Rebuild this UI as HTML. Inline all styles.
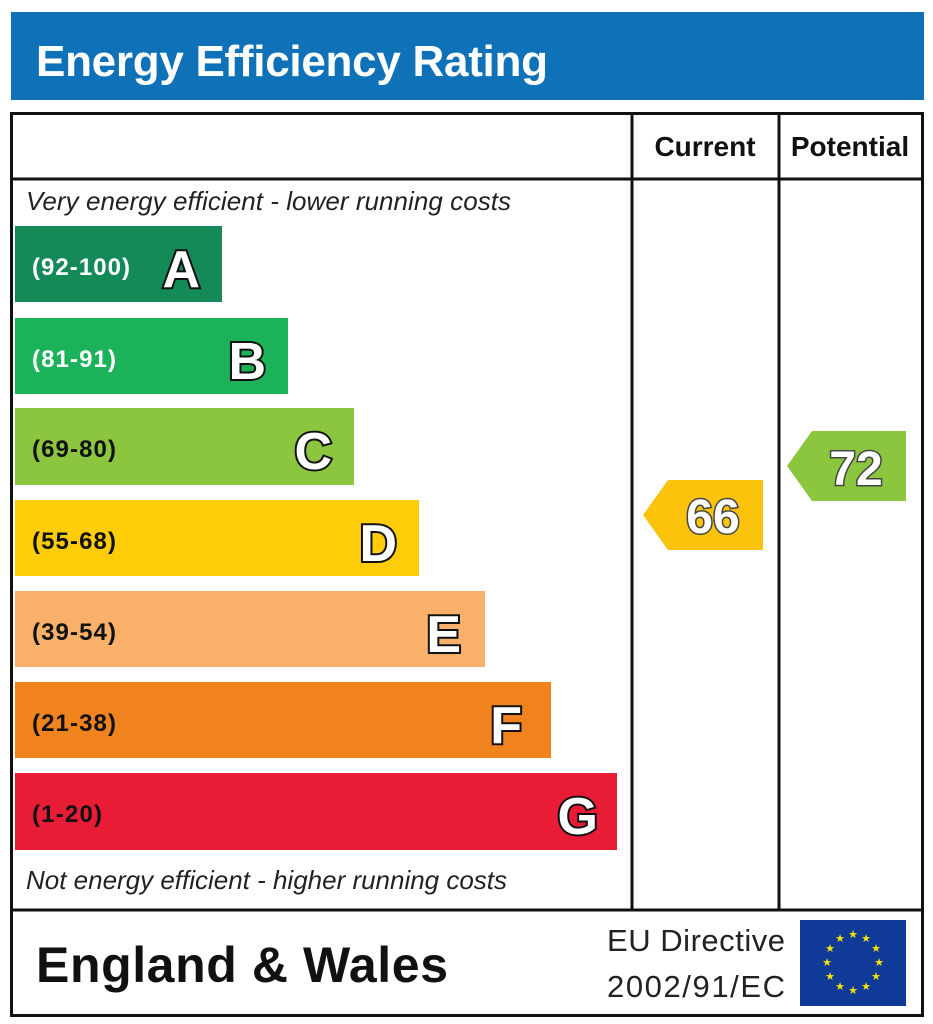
<!DOCTYPE html>
<html><head><meta charset="utf-8"><style>
html,body{margin:0;padding:0;background:#fff;width:933px;height:1024px;overflow:hidden}
svg text{font-family:"Liberation Sans",sans-serif}
.L{paint-order:stroke;stroke:#111;stroke-width:4;fill:#fff;font-size:52px;text-anchor:end}
.N{paint-order:stroke;stroke:#444;stroke-width:3;fill:#fff;font-size:48px;text-anchor:middle}
</style></head><body>
<svg width="933" height="1024" viewBox="0 0 933 1024">
<rect x="11" y="12" width="913" height="88" fill="#0f71b8"/>
<text x="36" y="76" font-size="44" font-weight="bold" fill="#fff" textLength="512">Energy Efficiency Rating</text>
<g fill="none" stroke="#111" stroke-width="3">
<rect x="11.5" y="113.5" width="911" height="902"/>
<line x1="11" y1="179" x2="923" y2="179"/>
<line x1="632" y1="113" x2="632" y2="910"/>
<line x1="779" y1="113" x2="779" y2="910"/>
<line x1="11" y1="910" x2="923" y2="910"/>
</g>
<text x="705" y="156" font-size="28" font-weight="bold" text-anchor="middle" fill="#111">Current</text>
<text x="850" y="156" font-size="28" font-weight="bold" text-anchor="middle" fill="#111">Potential</text>
<text x="26" y="210" font-size="26" font-style="italic" fill="#222" textLength="485">Very energy efficient - lower running costs</text>
<text x="26" y="889" font-size="26" font-style="italic" fill="#222" textLength="481">Not energy efficient - higher running costs</text>
<g font-weight="bold">
<rect x="15" y="226" width="207" height="76" fill="#138a58"/>
<text x="32" y="275" font-size="24" fill="#fff" textLength="98">(92-100)</text>
<text x="200" y="287" class="L">A</text>
<rect x="15" y="318" width="273" height="76" fill="#1bb25a"/>
<text x="32" y="367" font-size="24" fill="#fff" textLength="84">(81-91)</text>
<text x="266" y="379" class="L">B</text>
<rect x="15" y="408" width="339" height="77" fill="#8cc63e"/>
<text x="32" y="457" font-size="24" fill="#111" textLength="84">(69-80)</text>
<text x="332" y="469" class="L">C</text>
<rect x="15" y="500" width="404" height="76" fill="#fecc09"/>
<text x="32" y="549" font-size="24" fill="#111" textLength="84">(55-68)</text>
<text x="397" y="561" class="L">D</text>
<rect x="15" y="591" width="470" height="76" fill="#f8b06a"/>
<text x="32" y="640" font-size="24" fill="#111" textLength="84">(39-54)</text>
<text x="461" y="652" class="L">E</text>
<rect x="15" y="682" width="536" height="76" fill="#f1831f"/>
<text x="32" y="731" font-size="24" fill="#111" textLength="84">(21-38)</text>
<text x="522" y="743" class="L">F</text>
<rect x="15" y="773" width="602" height="77" fill="#e91c36"/>
<text x="32" y="822" font-size="24" fill="#111" textLength="70">(1-20)</text>
<text x="598" y="834" class="L">G</text>
<polygon points="643,515 668,480 763,480 763,550 668,550" fill="#fcc30d"/>
<text x="713" y="533" class="N">66</text>
<polygon points="787,466 812,431 906,431 906,501 812,501" fill="#8cc63e"/>
<text x="856" y="485" class="N">72</text>
</g>
<text x="36" y="982" font-size="50" font-weight="bold" fill="#111" textLength="412">England &amp; Wales</text>
<text x="607" y="951" font-size="31" fill="#222" textLength="178">EU Directive</text>
<text x="607" y="997" font-size="31" fill="#222" textLength="178">2002/91/EC</text>
<rect x="800" y="920" width="106" height="86" fill="#0f3a97"/>
<g fill="#f5e20a" font-size="11" text-anchor="middle">
<text x="853" y="938">★</text><text x="866" y="942">★</text><text x="876" y="952">★</text><text x="879" y="966">★</text><text x="876" y="980">★</text><text x="866" y="990">★</text><text x="853" y="994">★</text><text x="840" y="990">★</text><text x="830" y="980">★</text><text x="827" y="966">★</text><text x="830" y="952">★</text><text x="840" y="942">★</text>
</g>
</svg>
</body></html>
